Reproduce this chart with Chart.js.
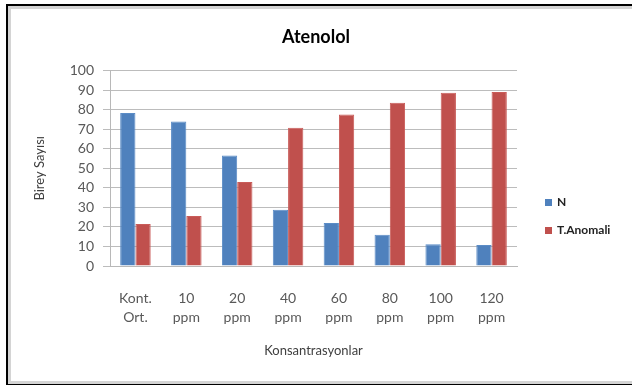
<!DOCTYPE html>
<html>
<head>
<meta charset="utf-8">
<script src="https://cdn.jsdelivr.net/npm/chart.js@4"></script>
<style>
  html, body { margin: 0; padding: 0; background: #fff; }
  body { width: 632px; height: 385px; position: relative; overflow: hidden; font-family: Lato, "Liberation Sans", sans-serif; }
  #frame {
    position: absolute; left: 6px; top: 4px; width: 640px; height: 378px;
    border: 2px solid #000; border-right: none; border-bottom-width: 3px;
    box-shadow: inset 3px 3px 0 0 #d4d4d4, inset 0 -3px 0 0 #d4d4d4;
  }
  #wrap { position: absolute; left: 0; top: 0; width: 632px; height: 385px; }
  #legend { position: absolute; left: 545px; top: 196px; font-size: 12px; font-weight: bold; color: #222; }
  #legend div { height: 28px; line-height: 12px; white-space: nowrap; }
  #legend span.box { display: inline-block; width: 7px; height: 7px; margin-right: 5px; vertical-align: 0px; }
</style>
</head>
<body>
<div id="frame"></div>
<div id="wrap"><canvas id="myChart" width="632" height="385"></canvas></div>
<div id="legend"></div>
<script>
// Chart data
const categories = [['Kont.', 'Ort.'], ['10', 'ppm'], ['20', 'ppm'], ['40', 'ppm'], ['60', 'ppm'], ['80', 'ppm'], ['100', 'ppm'], ['120', 'ppm']];
const seriesN = [78.3, 74, 56.5, 28.8, 22, 16, 11.1, 10.7];
const seriesAnomali = [21.5, 25.6, 43, 70.7, 77.5, 83.5, 88.7, 89.1];
const seriesNames = ['N', 'T.Anomali'];
const seriesColors = ['#4F81BD', '#C0504D'];

const fontFamily = 'Lato, "Liberation Sans", sans-serif';

// Build the legend as html
const legendEl = document.getElementById('legend');
seriesNames.forEach((name, i) => {
    const row = document.createElement('div');
    row.innerHTML = '<span class="box" style="background:' + seriesColors[i] + '"></span>' + name;
    legendEl.appendChild(row);
});

const ctx = document.getElementById('myChart').getContext('2d');

new Chart(ctx, {
    type: 'bar',
    data: {
        labels: categories,
        datasets: [
            {
                label: seriesNames[0],
                data: seriesN,
                backgroundColor: seriesColors[0],
                borderColor: '#5b8cc6',
                borderWidth: 1
            },
            {
                label: seriesNames[1],
                data: seriesAnomali,
                backgroundColor: seriesColors[1],
                borderColor: '#c95c59',
                borderWidth: 1
            }
        ]
    },
    options: {
        responsive: false,
        animation: false,
        layout: {
            padding: 0
        },
        datasets: {
            bar: {
                categoryPercentage: 0.6,
                barPercentage: 1
            }
        },
        scales: {
            x: {
                grid: { display: false },
                border: { display: true, color: '#b8b8b8', width: 1 },
                ticks: {
                    color: '#595959',
                    padding: 15,
                    maxRotation: 0,
                    autoSkip: false,
                    font: { family: fontFamily, size: 14, lineHeight: 1.35 }
                },
                title: {
                    display: true,
                    text: 'Konsantrasyonlar',
                    color: '#404040',
                    padding: { top: 0, bottom: 26 },
                    font: { family: fontFamily, size: 13 }
                },
                afterFit: scale => { scale.height = 119; }
            },
            y: {
                min: 0,
                max: 100,
                ticks: {
                    stepSize: 10,
                    autoSkip: false,
                    color: '#595959',
                    padding: 9,
                    font: { family: fontFamily, size: 14 }
                },
                grid: {
                    color: '#bcbcbc',
                    lineWidth: 1,
                    tickLength: 7
                },
                border: { display: true, color: '#b8b8b8', width: 1 },
                title: {
                    display: true,
                    text: 'Birey Sayısı',
                    color: '#404040',
                    padding: { top: 32, bottom: 0 },
                    font: { family: fontFamily, size: 13 }
                },
                afterFit: scale => { scale.width = 110; }
            },
            // empty axis on the right, keeps room for the legend
            spacer: {
                type: 'linear',
                position: 'right',
                grid: { display: false },
                border: { display: false },
                ticks: { display: false },
                afterFit: scale => { scale.width = 115; }
            }
        },
        plugins: {
            legend: { display: false },
            tooltip: { enabled: false },
            title: {
                display: true,
                text: 'Atenolol',
                color: '#000',
                padding: { top: 26, bottom: 23 },
                font: { family: fontFamily, size: 18, weight: 'bold' }
            }
        }
    }
});
</script>
</body>
</html>
